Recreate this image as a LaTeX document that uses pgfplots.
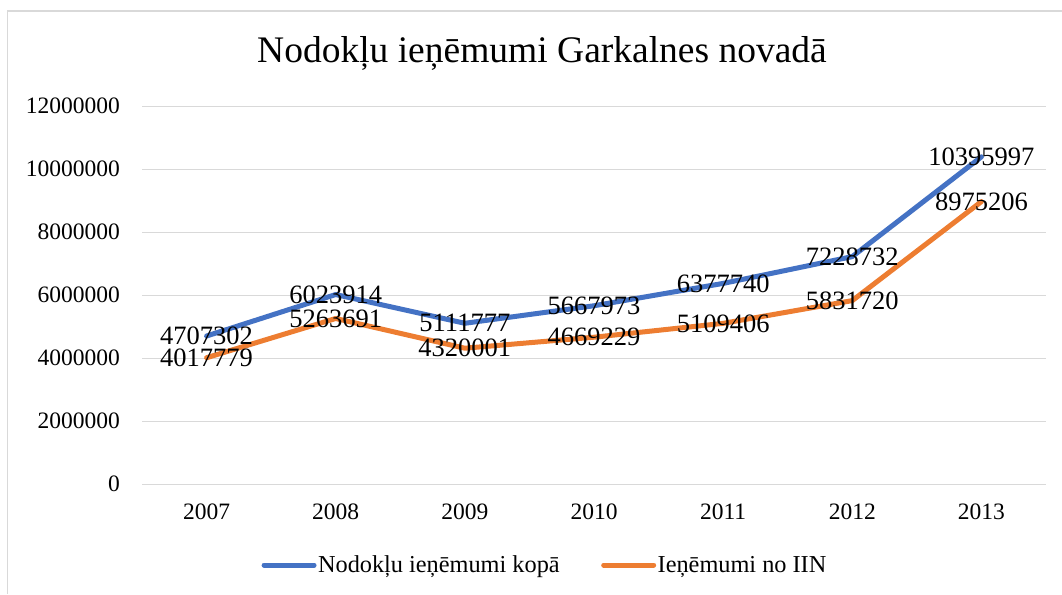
\documentclass[border=0pt]{standalone}
\usepackage{fontspec}
\setmainfont{Liberation Serif}
\usepackage{pgfplots}
\pgfplotsset{compat=1.18}
\definecolor{exblue}{HTML}{4472C4}
\definecolor{exorange}{HTML}{ED7D31}
\definecolor{gridgray}{HTML}{D9D9D9}
\begin{document}
\begin{tikzpicture}[x=1pt,y=1pt]
\useasboundingbox (0,0) rectangle (1062,594);
\draw[gridgray, line width=1.3pt] (7.5,0) -- (7.5,583) -- (1062,583);
\node[font=\fontsize{37.5}{44}\selectfont, inner sep=0] at (542,541) {Nodokļu ieņēmumi Garkalnes novadā};
\begin{axis}[
  at={(142pt,109.7pt)}, anchor=south west,
  width=904pt, height=378pt, scale only axis,
  xmin=-0.5, xmax=6.5, ymin=0, ymax=12000000,
  xtick={0,1,2,3,4,5,6},
  xticklabels={2007,2008,2009,2010,2011,2012,2013},
  ytick={0,2000000,4000000,6000000,8000000,10000000,12000000},
  yticklabels={0,2000000,4000000,6000000,8000000,10000000,12000000},
  scaled y ticks=false,
  major tick length=0pt,
  ymajorgrids,
  grid style={gridgray, line width=1.3pt},
  axis x line*=bottom, axis y line*=left,
  x axis line style={gridgray, line width=1.3pt, -},
  y axis line style={draw=none},
  tick label style={font=\fontsize{23.5}{26}\selectfont, inner sep=0pt},
  yticklabel style={xshift=-22pt},
  xticklabel style={yshift=-19pt},
  clip=false,
  legend columns=2,
  legend style={at={(0.4455,-0.2135)}, anchor=center, draw=none, fill=none,
    font=\fontsize{24.3}{26}\selectfont,
    nodes={inner xsep=1.5pt},
    /tikz/every odd column/.append style={column sep=0pt},
    /tikz/every even column/.append style={column sep=40pt}},
  legend image code/.code={\draw[#1, line width=5pt, line cap=round] (0pt,0pt) -- (50pt,0pt);},
  point meta=explicit symbolic,
  nodes near coords,
  every node near coord/.append style={anchor=center, inner sep=0pt, font=\fontsize{26.5}{28}\selectfont, text=black},
]
\addplot[exblue, line width=5pt, line cap=round, line join=round] coordinates {
  (0,4707302) [4707302]
  (1,6023914) [6023914]
  (2,5111777) [5111777]
  (3,5667973) [5667973]
  (4,6377740) [6377740]
  (5,7228732) [7228732]
  (6,10395997) [10395997]
};
\addlegendentry{Nodokļu ieņēmumi kopā}
\addplot[exorange, line width=5pt, line cap=round, line join=round] coordinates {
  (0,4017779) [4017779]
  (1,5263691) [5263691]
  (2,4320001) [4320001]
  (3,4669229) [4669229]
  (4,5109406) [5109406]
  (5,5831720) [5831720]
  (6,8975206) [8975206]
};
\addlegendentry{Ieņēmumi no IIN}
\end{axis}
\end{tikzpicture}
\end{document}
